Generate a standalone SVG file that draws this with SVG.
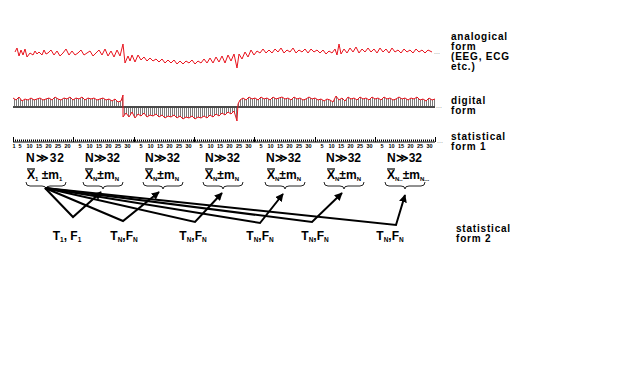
<svg xmlns="http://www.w3.org/2000/svg" width="623" height="386" viewBox="0 0 623 386">
<style>
.lbl{font-family:"Liberation Sans",Arial,sans-serif;font-weight:bold;font-size:10px;fill:#000;letter-spacing:0.8px}
.n{font-family:"Liberation Sans",Arial,sans-serif;font-weight:bold;font-size:12px;fill:#000}
.sub{font-size:6px}
.tk{font-family:"Liberation Sans",Arial,sans-serif;font-weight:bold;font-size:5.5px;fill:#000;text-anchor:middle}
.dots{font-family:"Liberation Sans",Arial,sans-serif;font-size:7px;fill:#888}
.brace{fill:none;stroke:#222;stroke-width:1}
.conn{fill:none;stroke:#000;stroke-width:2;stroke-linejoin:miter;marker-end:url(#ah)}
.tf{font-family:"Liberation Sans",Arial,sans-serif;font-weight:bold;font-size:12px;fill:#000;text-anchor:middle}
.tf .sub{font-size:6.5px}
</style>
<defs>
<pattern id="stripes" width="2" height="4" patternUnits="userSpaceOnUse"><rect width="1" height="4" fill="#7a7a7a"/></pattern>
<marker id="ah" viewBox="0 0 10 10" refX="9" refY="5" markerWidth="8" markerHeight="8" markerUnits="userSpaceOnUse" orient="auto"><path d="M0,0 L10,5 L0,10 z" fill="#000"/></marker>
<g id="seglbl">
<text class="tk" x="7" y="147.5">5</text><text class="tk" x="16.5" y="147.5">10</text><text class="tk" x="26" y="147.5">15</text><text class="tk" x="35.5" y="147.5">20</text><text class="tk" x="45" y="147.5">25</text><text class="tk" x="54.5" y="147.5">30</text>
</g>
<path id="brace" d="M0,182 Q0,186 4,186 L16,186 Q20,186 20,189 Q20,186 24,186 L36,186 Q40,186 40,182"/>
</defs>
<rect width="623" height="386" fill="#fff"/>

<g id="analog">
<polyline fill="none" stroke="#e8141e" stroke-width="1" points="15,52 17,48 19,56 21,50 23,55 25,49 27,57 30,53 33,55 35,51 37,54 39,52 42,55 44,50 46,54 48,53 51,50 54,55 57,51 60,56 63,53 66,49 69,55 72,51 75,55 78,53 81,50 84,55 87,53 90,51 93,56 96,53 99,50 102,55 105,49 108,56 111,51 114,57 117,50 120,56 123,44 125,63 128,56 130,61 132,55 135,62 138,55 141,60 144,57 147,61 150,58 153,61 156,59 159,62 162,59 165,63 168,60 171,63 174,60 177,64 180,61 183,64 186,61 189,63 192,60 195,64 198,61 201,63 204,59 207,63 210,58 213,63 216,57 219,62 222,56 225,63 228,55 231,61 234,54 237,68 239,54 242,59 245,52 248,57 251,50 254,55 257,51 260,53 263,49 266,53 269,50 272,53 275,49 278,52 281,48 284,53 287,50 290,52 293,48 296,53 299,50 302,52 305,49 308,53 311,49 314,52 317,50 320,53 323,50 326,54 329,51 332,53 335,49 337,55 339,44 341,54 344,49 347,53 350,48 353,52 356,47 359,53 362,49 365,52 368,48 371,52 374,49 377,53 380,48 383,52 386,49 389,53 392,48 395,52 398,50 401,53 404,49 407,52 410,50 413,53 416,49 419,52 422,50 425,53 428,50 432,52"/>
<text class="dots" x="434" y="54">...</text>
</g>

<g id="digital">
<polygon fill="url(#stripes)" stroke="none" points="13,107 13,98 16,100 19,97 22,101 25,99 28,100 31,98 34,100 37,99 40,98 43,100 46,99 49,98 52,100 55,97 58,99 61,100 64,98 67,99 70,97 73,100 76,98 79,99 82,97 85,100 88,98 91,99 94,98 97,100 100,99 103,98 106,100 109,99 112,101 115,99 118,102 121,101 123,95 123,117 126,113 129,117 132,112 135,118 138,114 141,116 144,113 147,117 150,115 153,116 156,114 159,117 162,115 165,118 168,116 171,117 174,115 177,118 180,116 183,119 186,117 189,118 192,116 195,119 198,117 201,118 204,116 207,118 210,115 213,117 216,114 219,116 222,113 225,115 228,112 231,114 234,111 237,121 238,104 240,100 243,98 246,100 249,97 252,99 255,98 258,100 261,97 264,99 267,98 270,100 273,97 276,99 279,98 282,97 285,99 288,98 291,100 294,97 297,99 300,98 303,100 306,99 309,97 312,99 315,98 318,100 321,99 324,101 327,99 330,100 333,102 336,96 339,100 342,98 345,101 348,97 351,99 354,98 357,100 360,97 363,99 366,98 369,100 372,97 375,99 378,98 381,100 384,97 387,99 390,98 393,100 396,99 399,97 402,99 405,98 408,100 411,98 414,99 417,97 420,100 423,99 426,101 429,98 432,100 435,99 435,107"/>
<line x1="13" y1="107" x2="435" y2="107" stroke="#4a4a4a" stroke-width="2"/>
<polyline fill="none" stroke="#e8141e" stroke-width="1" points="13,98 16,100 19,97 22,101 25,99 28,100 31,98 34,100 37,99 40,98 43,100 46,99 49,98 52,100 55,97 58,99 61,100 64,98 67,99 70,97 73,100 76,98 79,99 82,97 85,100 88,98 91,99 94,98 97,100 100,99 103,98 106,100 109,99 112,101 115,99 118,102 121,101 123,95 123,117 126,113 129,117 132,112 135,118 138,114 141,116 144,113 147,117 150,115 153,116 156,114 159,117 162,115 165,118 168,116 171,117 174,115 177,118 180,116 183,119 186,117 189,118 192,116 195,119 198,117 201,118 204,116 207,118 210,115 213,117 216,114 219,116 222,113 225,115 228,112 231,114 234,111 237,121 238,104 240,100 243,98 246,100 249,97 252,99 255,98 258,100 261,97 264,99 267,98 270,100 273,97 276,99 279,98 282,97 285,99 288,98 291,100 294,97 297,99 300,98 303,100 306,99 309,97 312,99 315,98 318,100 321,99 324,101 327,99 330,100 333,102 336,96 339,100 342,98 345,101 348,97 351,99 354,98 357,100 360,97 363,99 366,98 369,100 372,97 375,99 378,98 381,100 384,97 387,99 390,98 393,100 396,99 399,97 402,99 405,98 408,100 411,98 414,99 417,97 420,100 423,99 426,101 429,98 432,100 435,99"/>
<text class="dots" x="436" y="108">...</text>
</g>

<g id="ruler">
<line x1="13" y1="142" x2="435" y2="142" stroke="#000" stroke-width="1"/>
<line x1="13" y1="140.5" x2="435" y2="140.5" stroke="#000" stroke-width="2" stroke-dasharray="1 1"/>
<path d="M13.5,137V142 M73.5,137V142 M134.5,137V142 M194.5,137V142 M254.5,137V142 M315.5,137V142 M375.5,137V142 M435.5,137V142" stroke="#000" stroke-width="1"/>
<text class="tk" x="14" y="147.5">1</text>
<text class="tk" x="20" y="147.5">5</text><text class="tk" x="29.5" y="147.5">10</text><text class="tk" x="39" y="147.5">15</text><text class="tk" x="48.5" y="147.5">20</text><text class="tk" x="58" y="147.5">25</text><text class="tk" x="67.5" y="147.5">20</text>
<use href="#seglbl" x="73"/>
<use href="#seglbl" x="134"/>
<use href="#seglbl" x="194"/>
<use href="#seglbl" x="254"/>
<use href="#seglbl" x="315"/>
<use href="#seglbl" x="375"/>
<text class="dots" x="437" y="143">...</text>
</g>

<g id="labels-right">
<text class="lbl" x="451" y="40">analogical</text>
<text class="lbl" x="451" y="50">form</text>
<text class="lbl" x="451" y="60">(EEG, ECG</text>
<text class="lbl" x="451" y="70">etc.)</text>
<text class="lbl" x="451" y="104">digital</text>
<text class="lbl" x="451" y="114">form</text>
<text class="lbl" x="451" y="140">statistical</text>
<text class="lbl" x="451" y="150">form 1</text>
<text class="lbl" x="456" y="232">statistical</text>
<text class="lbl" x="456" y="242">form 2</text>
</g>

<g id="stat1">
<text class="n" x="26" y="162" letter-spacing="1">N≫32</text>
<text class="n" x="27" y="179">X<tspan class="sub" dy="2">1</tspan><tspan dy="-2"> ±m</tspan><tspan class="sub" dy="2">1</tspan></text>
<line x1="27" y1="169" x2="35" y2="169" stroke="#000" stroke-width="1.2"/>
<use href="#brace" class="brace" x="26"/>
</g>
<g id="stat2">
<text class="n" x="85" y="162">N≫32</text>
<text class="n" x="85" y="179">X<tspan class="sub" dy="2">N</tspan><tspan dy="-2">±m</tspan><tspan class="sub" dy="2">N</tspan></text>
<line x1="85" y1="169" x2="93" y2="169" stroke="#000" stroke-width="1.2"/>
<use href="#brace" class="brace" x="83"/>
</g>
<g id="stat3">
<text class="n" x="145" y="162">N≫32</text>
<text class="n" x="145" y="179">X<tspan class="sub" dy="2">N</tspan><tspan dy="-2">±m</tspan><tspan class="sub" dy="2">N</tspan></text>
<line x1="145" y1="169" x2="153" y2="169" stroke="#000" stroke-width="1.2"/>
<use href="#brace" class="brace" x="143"/>
</g>
<g id="stat4">
<text class="n" x="205" y="162">N≫32</text>
<text class="n" x="205" y="179">X<tspan class="sub" dy="2">N</tspan><tspan dy="-2">±m</tspan><tspan class="sub" dy="2">N</tspan></text>
<line x1="205" y1="169" x2="213" y2="169" stroke="#000" stroke-width="1.2"/>
<use href="#brace" class="brace" x="203"/>
</g>
<g id="stat5">
<text class="n" x="266" y="162">N≫32</text>
<text class="n" x="267" y="179">X<tspan class="sub" dy="2">N</tspan><tspan dy="-2">±m</tspan><tspan class="sub" dy="2">N</tspan></text>
<line x1="267" y1="169" x2="275" y2="169" stroke="#000" stroke-width="1.2"/>
<use href="#brace" class="brace" x="265"/>
</g>
<g id="stat6">
<text class="n" x="326" y="162">N≫32</text>
<text class="n" x="327" y="179">X<tspan class="sub" dy="2">N</tspan><tspan dy="-2">±m</tspan><tspan class="sub" dy="2">N</tspan></text>
<line x1="327" y1="169" x2="335" y2="169" stroke="#000" stroke-width="1.2"/>
<use href="#brace" class="brace" x="324"/>
</g>
<g id="stat7">
<text class="n" x="387" y="162">N≫32</text>
<text class="n" x="387" y="179">X<tspan class="sub" dy="2">N..</tspan><tspan dy="-2">±m</tspan><tspan class="sub" dy="2">N...</tspan></text>
<line x1="387" y1="169" x2="395" y2="169" stroke="#000" stroke-width="1.2"/>
<use href="#brace" class="brace" x="385"/>
</g>

<g id="connectors">
<path class="conn" d="M45,188 L73,217 L101,192"/>
<path class="conn" d="M45,188 L123,221 L159,192"/>
<path class="conn" d="M45,188 L195,222 L222,193"/>
<path class="conn" d="M45,188 L260,223 L283,194"/>
<path class="conn" d="M45,188 L312,222 L342,193"/>
<path class="conn" d="M45,188 L396,225 L405,195"/>
</g>

<g id="tf-labels">
<text class="tf" x="67" y="240">T<tspan class="sub" dy="2">1</tspan><tspan dy="-2">, F</tspan><tspan class="sub" dy="2">1</tspan></text>
<text class="tf" x="124" y="240">T<tspan class="sub" dy="2">N</tspan><tspan dy="-2">,F</tspan><tspan class="sub" dy="2">N</tspan></text>
<text class="tf" x="193" y="240">T<tspan class="sub" dy="2">N</tspan><tspan dy="-2">,F</tspan><tspan class="sub" dy="2">N</tspan></text>
<text class="tf" x="260" y="240">T<tspan class="sub" dy="2">N</tspan><tspan dy="-2">,F</tspan><tspan class="sub" dy="2">N</tspan></text>
<text class="tf" x="315" y="240">T<tspan class="sub" dy="2">N</tspan><tspan dy="-2">,F</tspan><tspan class="sub" dy="2">N</tspan></text>
<text class="tf" x="390" y="240">T<tspan class="sub" dy="2">N</tspan><tspan dy="-2">,F</tspan><tspan class="sub" dy="2">N</tspan></text>
</g>
</svg>
